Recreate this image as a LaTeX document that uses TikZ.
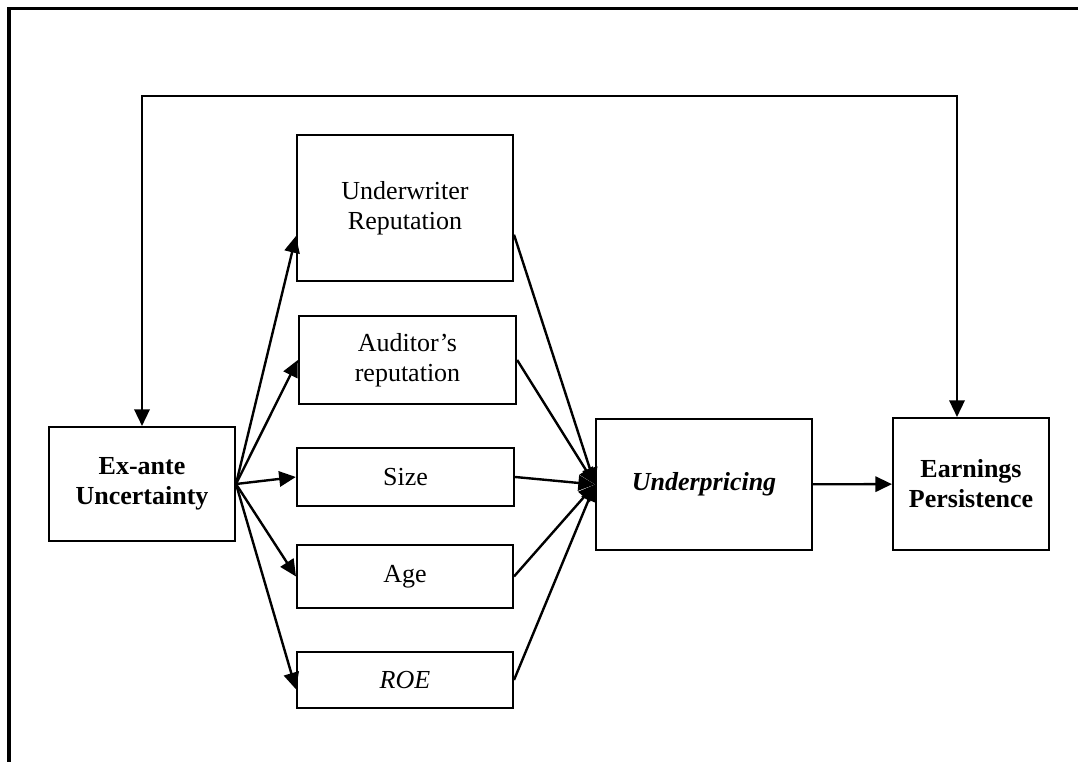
\documentclass[tikz,border=0pt]{standalone}
\usepackage{fontspec}
\setmainfont{Liberation Serif}
\usetikzlibrary{arrows.meta}

\tikzset{
  box/.style={draw,line width=1.5pt,inner sep=0pt,align=center,
    font=\fontsize{19.5}{22.5}\selectfont},
  arr/.style={-{Triangle[length=12.5pt,width=11.5pt]},line width=1.8pt},
}

\begin{document}
\begin{tikzpicture}[x=0.75pt,y=-0.75pt]
\useasboundingbox (0,0) rectangle (1078,762);
% frame
\draw[line width=2.8pt] (9,770) -- (9,8.5) -- (1090,8.5);

\node[box,font=\fontsize{19.5}{22.5}\selectfont\bfseries,minimum width=139.5pt,minimum height=85.5pt] (ex) at (142,484) {Ex-ante\\Uncertainty};
\node[box,minimum width=162pt,minimum height=109.5pt] (uw) at (405,208) {Underwriter\\Reputation};
\node[box,minimum width=163pt,minimum height=66pt] (au) at (407.5,360) {Auditor’s\\reputation};
\node[box,minimum width=163pt,minimum height=43.5pt] (sz) at (405.5,477) {Size};
\node[box,minimum width=162pt,minimum height=47pt] (ag) at (405,576.5) {Age};
\node[box,font=\fontsize{19.5}{22.5}\selectfont\itshape,minimum width=162pt,minimum height=42pt] (roe) at (405,680) {ROE};
\node[box,font=\fontsize{19.5}{22.5}\selectfont\bfseries\itshape,minimum width=162pt,minimum height=98pt] (up) at (704,484.5) {Underpricing};
\node[box,font=\fontsize{19.5}{22.5}\selectfont\bfseries,minimum width=117pt,minimum height=99pt] (ep) at (971,484) {Earnings\\Persistence};

% feedback loop
\coordinate (fb) at (957,96);
\draw[arr,{Triangle[length=12.5pt,width=11.5pt]}-{Triangle[length=12.5pt,width=11.5pt]}] (ex.north) |- (fb) -- (fb |- ep.north);

% ex-ante to the five factors
\draw[arr] (ex.east) -- ([yshift=-21pt]uw.west);
\draw[arr] (ex.east) -- (au.west);
\draw[arr] (ex.east) -- (sz.west);
\draw[arr] (ex.east) -- (ag.west);
\draw[arr] (ex.east) -- ([yshift=-7pt]roe.west);

% factors to underpricing
\draw[arr] ([yshift=-20pt]uw.east) -- (up.west);
\draw[arr] (au.east) -- (up.west);
\draw[arr] (sz.east) -- (up.west);
\draw[arr] (ag.east) -- (up.west);
\draw[arr] (roe.east) -- (up.west);

\draw[arr] (up) -- (ep);
\end{tikzpicture}
\end{document}
